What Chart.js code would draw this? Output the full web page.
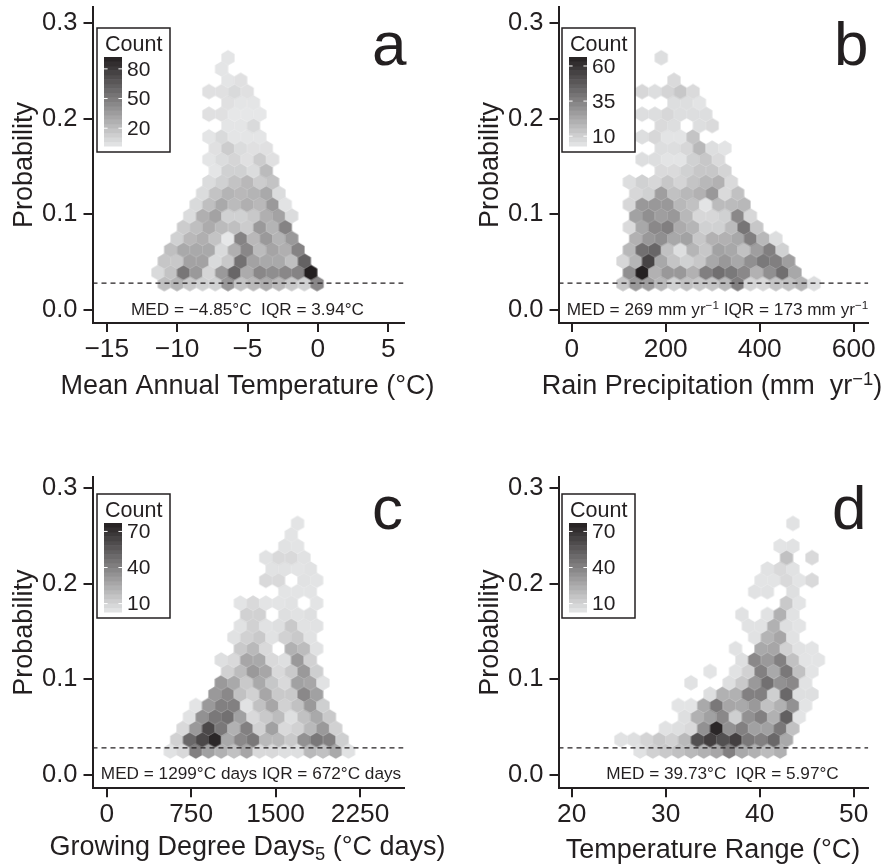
<!DOCTYPE html>
<html>
<head>
<meta charset="utf-8">
<style>
html, body { margin: 0; padding: 0; background: #fff; }
canvas { position: absolute; }
</style>
<script src="https://cdn.jsdelivr.net/npm/chart.js@4"></script>
</head>
<body>
<canvas id="panel-a" width="460" height="432" style="left:0;top:0"></canvas>
<canvas id="panel-b" width="423" height="432" style="left:460px;top:0"></canvas>
<canvas id="panel-c" width="460" height="432" style="left:0;top:432px"></canvas>
<canvas id="panel-d" width="423" height="432" style="left:460px;top:432px"></canvas>
<script>
// probability of each hex row, bottom to top
var upperProb = [0.0275,0.0393,0.0511,0.0629,0.0747,0.0866,0.0984,0.1102,0.1220,0.1338,0.1456,0.1574,0.1692,0.1810,0.1928,0.2047,0.2165,0.2283,0.2401,0.2519,0.2637];
var lowerProb = [0.0248,0.0367,0.0486,0.0606,0.0725,0.0844,0.0963,0.1082,0.1202,0.1321,0.1440,0.1559,0.1678,0.1798,0.1917,0.2036,0.2155,0.2274,0.2394,0.2513,0.2632];
var medianLine = 0.028;
var yTicks = [0, 0.1, 0.2, 0.3];

// panel a: mean annual temperature
var aBinWidth = 0.9044;
var aRowStart = [-10.91,-11.36,-10.91,-10.46,-10.00,-9.55,-9.10,-8.65,-8.19,-7.74,-7.29,-7.74,-7.29,-7.74,-6.39,-7.74,-6.39,-7.74,-6.39,-6.84,-6.39];
var aCounts = [
  [20,25,16,12,12,38,18,23,29,23,16,12,45],
  [8,18,53,37,10,37,60,29,45,42,45,47,92],
  [17,16,33,33,8,16,55,33,30,30,20,62],
  [20,30,30,30,8,27,45,22,32,27,47],
  [12,23,27,18,2,47,23,37,25,37],
  [14,20,29,22,20,14,37,25,47],
  [7,27,33,12,12,16,27,33,7],
  [8,20,30,22,27,23,37,4],
  [7,18,25,23,25,30,7],
  [7,12,18,23,14,18],
  [3,12,12,7,22],
  [3,7,10,5,14,5],
  [5,14,7,5,5],
  [3,8,3,3,3],
  [3,3,8],
  [5,5,2,2,2],
  [5,3,3],
  [5,5,8,5],
  [3,5],
  [3],
  [3]
];
var aXTicks = [-15,-10,-5,0,5];
var aLegendTicks = [20,50,80];

// panel b: rain precipitation
var bBinWidth = 27.1;
var bRowStart = [109.1,122.65,109.1,122.65,136.2,122.65,136.2,122.65,136.2,122.65,190.4,149.75,190.4,149.75,190.4,149.75,217.5,149.75,217.5,217.5,190.4];
var bCounts = [
  [13,28,26,18,10,15,13,14,18,36,9,8,14,15,19,6],
  [31,66,20,28,28,20,36,41,38,33,20,31,41,23],
  [8,19,55,23,14,10,13,23,28,23,31,38,36,26],
  [18,41,44,15,6,19,13,25,23,15,26,36,10],
  [20,28,31,23,25,13,20,20,23,36,18,6],
  [7,23,33,36,22,19,10,10,17,39,13],
  [25,31,26,28,18,8,8,10,33,8],
  [8,28,28,28,18,15,4,17,17,18],
  [8,10,26,15,18,20,28,7,15],
  [6,10,8,13,9,14,18,20,7],
  [7,7,10,13,13,9],
  [6,6,4,4,10,13,7],
  [6,6,8,18,6,4],
  [6,8,4,4,14],
  [7,6,0,6,7],
  [6,6,8,6,6,6],
  [6,6,4],
  [8,6,9,13,7],
  [7],
  [],
  [6]
];
var bXTicks = [0,200,400,600];
var bLegendTicks = [10,35,60];

// panel c: growing degree days
var cBinWidth = 113;
var cRowStart = [565,622,678,735,791,961,1017,1074,1017,1187,1130,1187,1243,1187,1582,1413,1469,1413,1582,1639,1695];
var cCounts = [
  [5,8,41,29,23,17,27,8,8,6,6,20,17,26,5],
  [11,50,62,74,26,38,44,20,20,14,35,44,41,12],
  [8,32,62,44,23,41,11,29,8,11,20,32,11],
  [5,35,44,47,29,8,14,19,6,17,26,14],
  [4,32,41,41,5,17,27,11,17,32,12],
  [32,38,17,11,27,14,14,38,29],
  [32,26,14,26,15,8,29,27,5],
  [11,19,32,27,8,14,32,12],
  [6,8,27,26,8,6,32,11],
  [14,20,8,0,23,19,5],
  [5,11,14,5,11,14,5],
  [5,11,5,6,14,5,5],
  [11,11,0,6,5,6],
  [4,8,4,4,5,0,4],
  [4,4,4],
  [8,8,0,5,4],
  [5,5,4,5],
  [5,8,8,5],
  [5,4],
  [4],
  [4]
];
var cXTicks = [0,750,1500,2250];
var cLegendTicks = [10,40,70];

// panel d: temperature range
var dBinWidth = 1.3546;
var dRowStart = [27.27,25.24,29.98,32.01,31.34,34.72,32.69,34.72,38.11,37.43,39.46,38.79,38.11,42.85,39.46,40.14,40.82,42.85,42.17,42.17,43.53];
var dCounts = [
  [5,11,14,17,20,23,27,41,26,23,19,23],
  [5,6,10,14,11,20,59,65,59,65,44,41,50,26],
  [5,6,8,35,74,35,41,29,29,44,17],
  [6,23,29,38,12,35,41,23,53,4],
  [4,4,26,44,27,26,32,17,23,35,4],
  [6,23,23,41,41,12,50,6,6],
  [5,0,0,6,14,32,47,35,38,5],
  [4,0,5,11,41,26,44,17,4],
  [6,38,32,41,17,4,4],
  [5,0,26,27,11,5,4],
  [5,22,27,5],
  [5,5,23,6,4],
  [5,0,5,23,5],
  [14,4],
  [5,5,0,6],
  [4,4,8,4,8],
  [5,8,5],
  [17,0,8],
  [4,5],
  [],
  [5]
];
var dXTicks = [20,30,40,50];
var dLegendTicks = [10,40,70];

var ink = "#231f20";
var fontName = "'Liberation Sans', Arial, sans-serif";
var hexWidth = 13.2;
var hexHeight = 15.5;
var hexCache = {};

function countColor(count, range) {
    var t = (count - range[0]) / (range[1] - range[0]);
    t = Math.max(0, Math.min(1, t));
    return "rgb(" + Math.round(230 - 195 * t) + "," + Math.round(231 - 200 * t) + "," + Math.round(232 - 200 * t) + ")";
}

// Chart.js has no hexagon point style, it takes a canvas though
function hexStyle(color) {
    if (hexCache[color]) return hexCache[color];
    var c = document.createElement("canvas");
    c.width = 16;
    c.height = 18;
    var g = c.getContext("2d");
    g.translate(8, 9);
    g.fillStyle = color;
    g.beginPath();
    g.moveTo(0, -hexHeight / 2);
    g.lineTo(hexWidth / 2, -hexHeight / 4);
    g.lineTo(hexWidth / 2, hexHeight / 4);
    g.lineTo(0, hexHeight / 2);
    g.lineTo(-hexWidth / 2, hexHeight / 4);
    g.lineTo(-hexWidth / 2, -hexHeight / 4);
    g.closePath();
    g.fill();
    hexCache[color] = c;
    return c;
}

function hexPoints(probs, starts, binWidth, counts) {
    var points = [];
    counts.forEach(function (row, r) {
        row.forEach(function (count, i) {
            if (count > 0) points.push({ x: starts[r] + i * binWidth, y: probs[r], count: count });
        });
    });
    return points;
}

// draws text with optional super/subscript runs, centred on cx
function drawRuns(ctx, runs, cx, y, size) {
    var total = 0;
    var widths = runs.map(function (run) {
        ctx.font = (run.shift ? size * 0.68 : size) + "px " + fontName;
        var w = ctx.measureText(run.text).width;
        total += w;
        return w;
    });
    var x = cx - total / 2;
    ctx.textAlign = "left";
    ctx.textBaseline = "alphabetic";
    runs.forEach(function (run, i) {
        ctx.font = (run.shift ? size * 0.68 : size) + "px " + fontName;
        ctx.fillText(run.text, x, y + (run.shift || 0) * size);
        x += widths[i];
    });
}

function panelText(p) {
    return {
        id: "panelText",
        afterDatasetsDraw: function (chart) {
            var ctx = chart.ctx;
            ctx.save();
            ctx.translate(-p.left, -p.top);
            ctx.fillStyle = ink;

            // letter, median text, x title
            ctx.textAlign = "left";
            ctx.textBaseline = "alphabetic";
            ctx.font = "62px " + fontName;
            ctx.fillText(p.letter, p.letterX, p.letterY);
            drawRuns(ctx, p.note, p.noteX, p.noteY, 17.2);
            drawRuns(ctx, p.xTitle, p.xTitleX, p.xTitleY, 27);

            // count legend
            var lx = p.legendX, ly = p.legendY;
            ctx.fillStyle = "#fff";
            ctx.fillRect(lx, ly, 73, 124);
            ctx.strokeStyle = ink;
            ctx.lineWidth = 1.5;
            ctx.strokeRect(lx, ly, 73, 124);
            ctx.fillStyle = ink;
            ctx.font = "21.5px " + fontName;
            ctx.textAlign = "left";
            ctx.textBaseline = "middle";
            ctx.fillText("Count", lx + 8, ly + 17);

            var bx = lx + 7, by = ly + 29, bw = 18, bh = 89, n = 20;
            for (var i = 0; i < n; i++) {
                ctx.fillStyle = countColor(p.range[0] + (i + 0.5) / n * (p.range[1] - p.range[0]), p.range);
                ctx.fillRect(bx, by + bh - (i + 1) * bh / n, bw, bh / n + 0.5);
            }
            p.legendTicks.forEach(function (v) {
                var ty = by + bh - (v - p.range[0]) / (p.range[1] - p.range[0]) * bh;
                ctx.fillStyle = "#fff";
                ctx.fillRect(bx, ty - 0.5, 3.6, 1);
                ctx.fillRect(bx + bw - 3.6, ty - 0.5, 3.6, 1);
                ctx.fillStyle = ink;
                ctx.font = "21px " + fontName;
                ctx.fillText(String(v), bx + bw + 5, ty + 1);
            });
            ctx.restore();
        }
    };
}

function minusLabel(v) {
    return String(v).replace("-", "\u2212");
}

function drawPanel(id, p, probs, starts, binWidth, counts, xTicks) {
    var points = hexPoints(probs, starts, binWidth, counts);
    new Chart(document.getElementById(id), {
        type: "scatter",
        data: {
            datasets: [{
                type: "line",
                data: [{ x: p.xRange[0], y: medianLine }, { x: p.xRange[1], y: medianLine }],
                borderColor: ink,
                borderWidth: 1.2,
                borderDash: [5, 4],
                pointRadius: 0,
                order: 0
            }, {
                data: points,
                pointStyle: points.map(function (pt) { return hexStyle(countColor(pt.count, p.range)); }),
                pointRadius: 6,
                order: 1
            }]
        },
        options: {
            responsive: false,
            animation: false,
            layout: { padding: { top: p.padTop, right: p.padRight } },
            plugins: { legend: { display: false }, tooltip: { enabled: false } },
            scales: {
                x: {
                    type: "linear",
                    min: p.xRange[0],
                    max: p.xRange[1],
                    afterBuildTicks: function (s) { s.ticks = xTicks.map(function (v) { return { value: v }; }); },
                    afterFit: function (s) { s.height = p.xHeight; s.paddingLeft = 0; s.paddingRight = 0; },
                    border: { color: ink, width: 2 },
                    grid: { drawOnChartArea: false, color: ink, lineWidth: 2, tickLength: 9 },
                    ticks: {
                        color: ink,
                        padding: 2,
                        maxRotation: 0,
                        autoSkip: false,
                        font: { family: fontName, size: 26.3 },
                        callback: minusLabel
                    }
                },
                y: {
                    min: p.yRange[0],
                    max: p.yRange[1],
                    afterBuildTicks: function (s) { s.ticks = yTicks.map(function (v) { return { value: v }; }); },
                    afterFit: function (s) { s.width = p.yWidth; s.paddingTop = 0; s.paddingBottom = 0; },
                    border: { color: ink, width: 2 },
                    grid: { drawOnChartArea: false, color: ink, lineWidth: 2, tickLength: 9 },
                    title: {
                        display: true,
                        text: "Probability",
                        color: ink,
                        padding: { top: p.yTitlePad, bottom: 0 },
                        font: { family: fontName, size: 27, lineHeight: 1 }
                    },
                    ticks: {
                        color: ink,
                        padding: 6,
                        font: { family: fontName, size: 25.5 },
                        callback: function (v) { return v.toFixed(1); }
                    }
                }
            }
        },
        plugins: [panelText(p)]
    });
}

drawPanel("panel-a", {
    left: 0, top: 0, padTop: 7, padRight: 56.5, xHeight: 109, yWidth: 92.5, yTitlePad: 11,
    xRange: [-16.01, 6.08], yRange: [-0.0136, 0.3167], range: [2, 92], legendTicks: aLegendTicks,
    letter: "a", letterX: 372, letterY: 65, legendX: 97, legendY: 28,
    note: [{ text: "MED = \u22124.85\u00b0C  IQR = 3.94\u00b0C" }], noteX: 247.5, noteY: 315,
    xTitle: [{ text: "Mean Annual Temperature (\u00b0C)" }], xTitleX: 247.5, xTitleY: 394
}, upperProb, aRowStart, aBinWidth, aCounts, aXTicks);

drawPanel("panel-b", {
    left: 460, top: 0, padTop: 7, padRight: 14.7, xHeight: 109, yWidth: 98.5, yTitlePad: 17,
    xRange: [-28.1, 631], yRange: [-0.0136, 0.3167], range: [3, 66.4], legendTicks: bLegendTicks,
    letter: "b", letterX: 834, letterY: 65, legendX: 562, legendY: 28,
    note: [{ text: "MED = 269 mm yr" }, { text: "\u22121", shift: -0.35 }, { text: " IQR = 173 mm yr" }, { text: "\u22121", shift: -0.35 }], noteX: 717.5, noteY: 315,
    xTitle: [{ text: "Rain Precipitation (mm  yr" }, { text: "\u22121", shift: -0.35 }, { text: ")" }], xTitleX: 712, xTitleY: 394
}, upperProb, bRowStart, bBinWidth, bCounts, bXTicks);

drawPanel("panel-c", {
    left: 0, top: 432, padTop: 45, padRight: 56.5, xHeight: 75.7, yWidth: 92.5, yTitlePad: 11,
    xRange: [-126, 2636], yRange: [-0.01425, 0.3118], range: [3, 77], legendTicks: cLegendTicks,
    letter: "c", letterX: 372, letterY: 529, legendX: 97, legendY: 494,
    note: [{ text: "MED = 1299\u00b0C days IQR = 672\u00b0C days" }], noteX: 251, noteY: 779,
    xTitle: [{ text: "Growing Degree Days" }, { text: "5", shift: 0.2 }, { text: " (\u00b0C days)" }], xTitleX: 247.5, xTitleY: 855
}, lowerProb, cRowStart, cBinWidth, cCounts, cXTicks);

drawPanel("panel-d", {
    left: 460, top: 432, padTop: 45, padRight: 14.7, xHeight: 75.7, yWidth: 98.5, yTitlePad: 17,
    xRange: [18.6, 51.55], yRange: [-0.01425, 0.3118], range: [3, 77], legendTicks: dLegendTicks,
    letter: "d", letterX: 832, letterY: 529, legendX: 562, legendY: 494,
    note: [{ text: "MED = 39.73\u00b0C  IQR = 5.97\u00b0C" }], noteX: 722.5, noteY: 779,
    xTitle: [{ text: "Temperature Range (\u00b0C)" }], xTitleX: 713, xTitleY: 858
}, lowerProb, dRowStart, dBinWidth, dCounts, dXTicks);
</script>
</body>
</html>
